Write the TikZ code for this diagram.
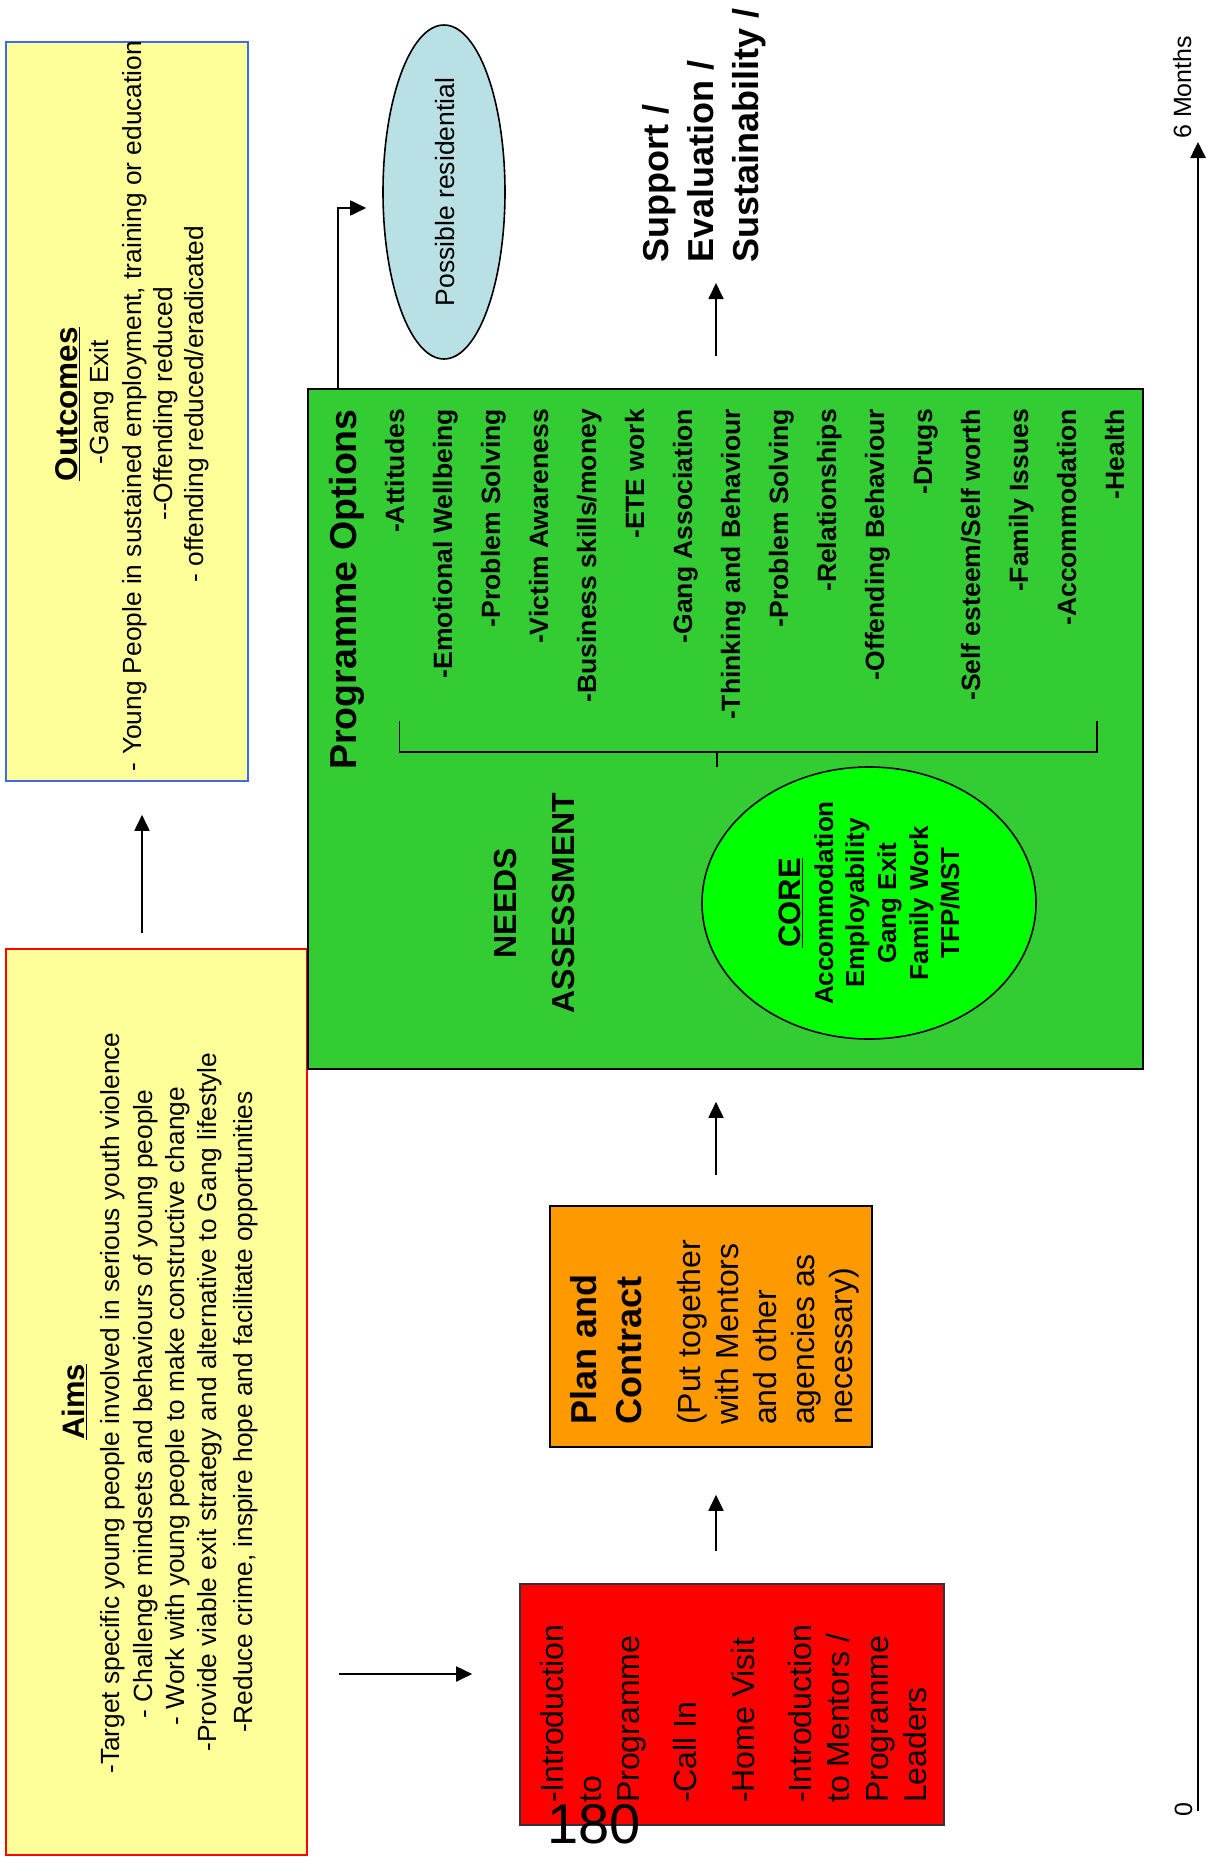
\documentclass[tikz,border=0pt]{standalone}
\usepackage{fontspec}
\setmainfont{Liberation Sans}
\usetikzlibrary{arrows.meta,calc,shapes.geometric}
\definecolor{pale}{RGB}{255,255,153}
\definecolor{outblue}{RGB}{65,105,240}
\definecolor{boxgreen}{RGB}{51,204,51}
\definecolor{coregreen}{RGB}{0,255,0}
\definecolor{resblue}{RGB}{185,224,228}
\definecolor{orangebox}{RGB}{255,153,0}
\newcommand{\setfs}[1]{\fontsize{#1}{#1}\selectfont}
\begin{document}
\begin{tikzpicture}[x=1pt,y=-1pt,
  box/.style={draw, line width=1.6pt, inner sep=0pt},
  txt/.style={inner sep=0pt, rotate=90},
  body/.style={txt, font=\setfs{26.3}},
  item/.style={txt, font=\setfs{26.5}\bfseries, anchor=base east},
  redl/.style={txt, font=\setfs{32}, anchor=base west},
  arr/.style={line width=1.8pt, -{Triangle[length=16pt,width=15pt]}}]
\fill[white] (0,0) rectangle (1208,1866);
\useasboundingbox (0,0) rectangle (1208,1866);

% boxes
\node[box, draw=outblue, fill=pale, minimum width=242pt, minimum height=739pt] (outc) at (127,411.5) {};
\node[box, draw=red, fill=pale, minimum width=301pt, minimum height=906pt] (aims) at (156.5,1402) {};
\node[box, fill=boxgreen, minimum width=835pt, minimum height=680pt] (green) at (725.5,729) {};
\node[box, draw=black!80, fill=red, minimum width=424pt, minimum height=241pt] (redb) at (732,1704.5) {};
\node[box, fill=orangebox, minimum width=322pt, minimum height=241pt] (orng) at (711,1326.5) {};
\node[ellipse, draw, line width=1.6pt, fill=resblue, minimum width=122pt, minimum height=334pt, inner sep=0pt] (resid) at (444,192) {};
\node[ellipse, draw, line width=1.6pt, fill=coregreen, minimum width=334pt, minimum height=272pt, inner sep=0pt] (core) at (869,903) {};

% Outcomes text
\node[txt, font=\setfs{31.5}\bfseries, anchor=base] (outh) at (77,404) {\underline{Outcomes}};
\node[body, anchor=base] (out1) at (108,402) {-Gang Exit};
\node[body, anchor=base] (out2) at (141,406) {- Young People in sustained employment, training or education};
\node[body, anchor=base] (out3) at (172,404) {-{}-Offending reduced};
\node[body, anchor=base] (out4) at (203,404) {- offending reduced/eradicated};

% Aims text
\node[txt, font=\setfs{31}\bfseries, anchor=base] (aimh) at (84,1402) {\underline{Aims}};
\node[body, anchor=base] (aim1) at (119,1403) {-Target specific young people involved in serious youth violence};
\node[body, anchor=base] (aim2) at (152,1404) {- Challenge mindsets and behaviours of young people};
\node[body, anchor=base] (aim3) at (184,1406) {- Work with young people to make constructive change};
\node[body, anchor=base] (aim4) at (216,1402) {-Provide viable exit strategy and alternative to Gang lifestyle};
\node[body, anchor=base] (aim5) at (252,1412) {-Reduce crime, inspire hope and facilitate opportunities};

% Programme options
\node[txt, font=\setfs{37.5}\bfseries, anchor=base east] (poh) at (356,409) {Programme Options};
\node[item] (p1) at (404,409) {-Attitudes};
\node[item] (p2) at (452,409) {-Emotional Wellbeing};
\node[item] (p3) at (500,409) {-Problem Solving};
\node[item] (p4) at (548,409) {-Victim Awareness};
\node[item] (p5) at (596,409) {-Business skills/money};
\node[item] (p6) at (644,409) {-ETE work};
\node[item] (p7) at (692,409) {-Gang Association};
\node[item] (p8) at (740,409) {-Thinking and Behaviour};
\node[item] (p9) at (788,409) {-Problem Solving};
\node[item] (p10) at (836,409) {-Relationships};
\node[item] (p11) at (884,409) {-Offending Behaviour};
\node[item] (p12) at (932,409) {-Drugs};
\node[item] (p13) at (980,409) {-Self esteem/Self worth};
\node[item] (p14) at (1028,409) {-Family Issues};
\node[item] (p15) at (1076,409) {-Accommodation};
\node[item] (p16) at (1124,409) {-Health};

% bracket
\coordinate (b1) at (399.5,721);
\coordinate (b2) at (1097,721);
\coordinate (bm) at (717,752);
\draw[line width=1.5pt] (b1) |- (b2 |- bm) -- (b2);
\draw[line width=1.5pt] (bm) -- ++(0,15);

% needs assessment
\node[txt, font=\setfs{32}\bfseries, anchor=base] (need1) at (516,903) {NEEDS};
\node[txt, font=\setfs{32}\bfseries, anchor=base] (need2) at (574,903) {ASSESSMENT};

% core
\node[txt, font=\setfs{31}\bfseries, anchor=base] (core0) at (800,903) {\underline{CORE}};
\node[txt, font=\setfs{26}\bfseries, anchor=base] (core1) at (833,903) {Accommodation};
\node[txt, font=\setfs{26}\bfseries, anchor=base] (core2) at (864,903) {Employability};
\node[txt, font=\setfs{26}\bfseries, anchor=base] (core3) at (896,903) {Gang Exit};
\node[txt, font=\setfs{26}\bfseries, anchor=base] (core4) at (928,903) {Family Work};
\node[txt, font=\setfs{26}\bfseries, anchor=base] (core5) at (959,903) {TFP/MST};

% plan and contract
\node[txt, font=\setfs{36}\bfseries, anchor=base west] (pc1) at (596,1425) {Plan and};
\node[txt, font=\setfs{36}\bfseries, anchor=base west] (pc2) at (641,1425) {Contract};
\node[redl] (pc3) at (700,1425) {(Put together};
\node[redl] (pc4) at (738,1425) {with Mentors};
\node[redl] (pc5) at (776,1425) {and other};
\node[redl] (pc6) at (814,1425) {agencies as};
\node[redl] (pc7) at (852,1425) {necessary)};

% red box text
\node[redl] (r1) at (563,1803) {-Introduction};
\node[redl] (r2) at (601,1803) {to};
\node[redl] (r3) at (639,1803) {Programme};
\node[redl] (r4) at (696,1803) {-Call In};
\node[redl] (r5) at (754,1803) {-Home Visit};
\node[redl] (r6) at (811,1803) {-Introduction};
\node[redl] (r7) at (849,1803) {to Mentors /};
\node[redl] (r8) at (888,1803) {Programme};
\node[redl] (r9) at (926,1803) {Leaders};
\node[inner sep=0pt, anchor=base west, font=\setfs{56}] (pg) at (547,1843) {180};

% residential
\node[txt, font=\setfs{26.5}, anchor=base] (restxt) at (454,192) {Possible residential};

% support
\node[txt, font=\setfs{36}\bfseries, anchor=base west] (s1) at (668,263) {Support /};
\node[txt, font=\setfs{36}\bfseries, anchor=base west] (s2) at (713,263) {Evaluation /};
\node[txt, font=\setfs{36}\bfseries, anchor=base west] (s3) at (758,263) {Sustainability /};

% timeline
\coordinate (t0) at (1198,1811);
\coordinate (t6) at (1198,142);
\draw[line width=2.6pt, -{Triangle[length=16pt,width=15pt]}] (t0) -- (t6);
\node[txt, font=\setfs{25}, anchor=base] (zero) at (1192,1810) {0};
\node[txt, font=\setfs{25}, anchor=base west] (six) at (1191,139) {6 Months};

% connectors
\draw[arr] ([shift={(-14.5,-15)}]aims.north) -- ([shift={(15,33)}]outc.south);
\draw[arr] ([shift={(31,272)}]aims.east) -- ([shift={(-47,-30.5)}]redb.west);
\draw[arr] ([shift={(-16,-32)}]redb.north) -- ([shift={(5,47)}]orng.south);
\draw[arr] ([shift={(5,-30)}]orng.north) -- ([shift={(-9.5,32)}]green.south);
\draw[arr] ([xshift=-387.5pt]green.north) |- ([shift={(-16,16)}]resid.west);
\coordinate (suptip) at (716,283);
\draw[arr] ([shift={(-9.5,-32)}]green.north) -- (suptip);
\end{tikzpicture}
\end{document}
